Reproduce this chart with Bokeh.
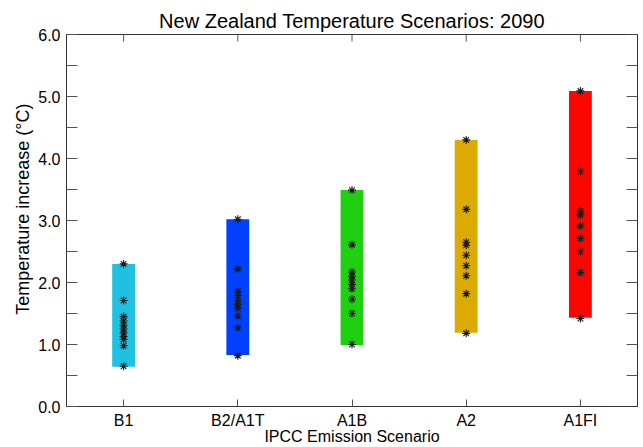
import math
from bokeh.plotting import figure
from bokeh.models import Range1d, LinearAxis, FixedTicker, NumeralTickFormatter, ColumnDataSource, Title
from bokeh.embed import file_html
from bokeh.resources import INLINE

# ---- data ----
scenarios = ["B1", "B2/A1T", "A1B", "A2", "A1FI"]
range_low = [0.64, 0.83, 0.99, 1.19, 1.43]
range_high = [2.30, 3.02, 3.49, 4.30, 5.09]
bar_colors = ["#20C0E0", "#0040FF", "#1ED010", "#DDAA00", "#FA0800"]

stars_b1 = [2.30, 1.71, 1.45, 1.38, 1.31, 1.25, 1.19, 1.13, 1.08, 0.98, 0.65]
stars_b2 = [3.02, 2.22, 1.86, 1.79, 1.71, 1.64, 1.58, 1.46, 1.27, 0.82]
stars_a1b = [3.49, 2.61, 2.17, 2.10, 2.04, 1.97, 1.90, 1.73, 1.50, 1.00]
stars_a2 = [4.30, 3.18, 2.65, 2.60, 2.44, 2.27, 2.11, 1.82, 1.18]
stars_a1fi = [5.09, 3.79, 3.15, 3.09, 2.91, 2.71, 2.50, 2.16, 1.42]
all_stars = [stars_b1, stars_b2, stars_a1b, stars_a2, stars_a1fi]

y_ticks = [0, 1, 2, 3, 4, 5, 6]
y_minor = [0.5, 1.5, 2.5, 3.5, 4.5, 5.5]
y_min, y_max = 0, 6

# ---- figure ----
FONT = "Liberation Sans"
n = len(scenarios)
x_lo, x_hi = 0.5, n + 0.5
p = figure(width=639, height=447, output_backend="svg", toolbar_location=None,
           x_range=Range1d(x_lo, x_hi), y_range=Range1d(y_min, y_max),
           min_border_left=66, min_border_right=2, min_border_top=34, min_border_bottom=40,
           x_axis_location=None, y_axis_location=None)
p.grid.visible = False
p.outline_line_color = "#333333"
p.background_fill_color = "white"
p.border_fill_color = "white"

p.title.text = "New Zealand Temperature Scenarios: 2090"
p.title.align = "center"
p.title.text_font = FONT
p.title.text_font_size = "20px"
p.title.text_font_style = "normal"
p.title.text_color = "black"
p.title.standoff = 6

xpos = list(range(1, n + 1))
src = ColumnDataSource(dict(x=xpos, low=range_low, high=range_high, color=bar_colors))
p.vbar(x="x", bottom="low", top="high", width=0.2, fill_color="color", line_color=None, source=src)

sx, sy = [], []
for i, vals in enumerate(all_stars):
    for v in vals:
        sx.append(xpos[i])
        sy.append(v)
p.scatter(sx, sy, marker="asterisk", size=8, line_color="#1a1a1a", line_width=1.1)

tick_color = "#555555"
line_color = "#333333"

# right-side ticks (inward) and top ticks (inward), drawn as screen-length rays
all_y = y_ticks + y_minor
p.ray(x=[x_hi] * len(all_y), y=all_y, length=11, length_units="screen",
      angle=math.pi, line_color=tick_color, line_width=1)
p.ray(x=xpos, y=[y_max] * n, length=7, length_units="screen",
      angle=-math.pi / 2, line_color=tick_color, line_width=1)

# left axis
ly = LinearAxis(ticker=FixedTicker(ticks=y_ticks, minor_ticks=y_minor),
                formatter=NumeralTickFormatter(format="0.0"))
ly.major_tick_in = 11
ly.major_tick_out = 0
ly.minor_tick_in = 11
ly.minor_tick_out = 0
ly.major_tick_line_color = tick_color
ly.minor_tick_line_color = tick_color
ly.axis_line_color = line_color
ly.major_label_text_font = FONT
ly.major_label_text_font_size = "16px"
ly.major_label_text_color = "black"
ly.major_label_standoff = 6
p.add_layout(ly, "left")

# y-axis label as a left-side title (positioned slightly above centre, as in the reference)
ylab = Title(text="Temperature increase (°C)", align="right", offset=69,
             text_font=FONT, text_font_size="18px", text_font_style="normal",
             text_color="black", standoff=5)
p.add_layout(ylab, "left")

# bottom axis
bx = LinearAxis(ticker=FixedTicker(ticks=xpos, minor_ticks=[]),
                axis_label="IPCC Emission Scenario")
bx.major_label_overrides = {x: s for x, s in zip(xpos, scenarios)}
bx.major_tick_in = 7
bx.major_tick_out = 0
bx.major_tick_line_color = tick_color
bx.minor_tick_line_color = None
bx.axis_line_color = line_color
bx.major_label_text_font = FONT
bx.major_label_text_font_size = "16px"
bx.major_label_text_color = "black"
bx.major_label_standoff = 5
bx.axis_label_text_font = FONT
bx.axis_label_text_font_size = "16px"
bx.axis_label_text_font_style = "normal"
bx.axis_label_text_color = "black"
bx.axis_label_standoff = -4
p.add_layout(bx, "below")

open("out.html", "w").write(file_html(p, INLINE))
